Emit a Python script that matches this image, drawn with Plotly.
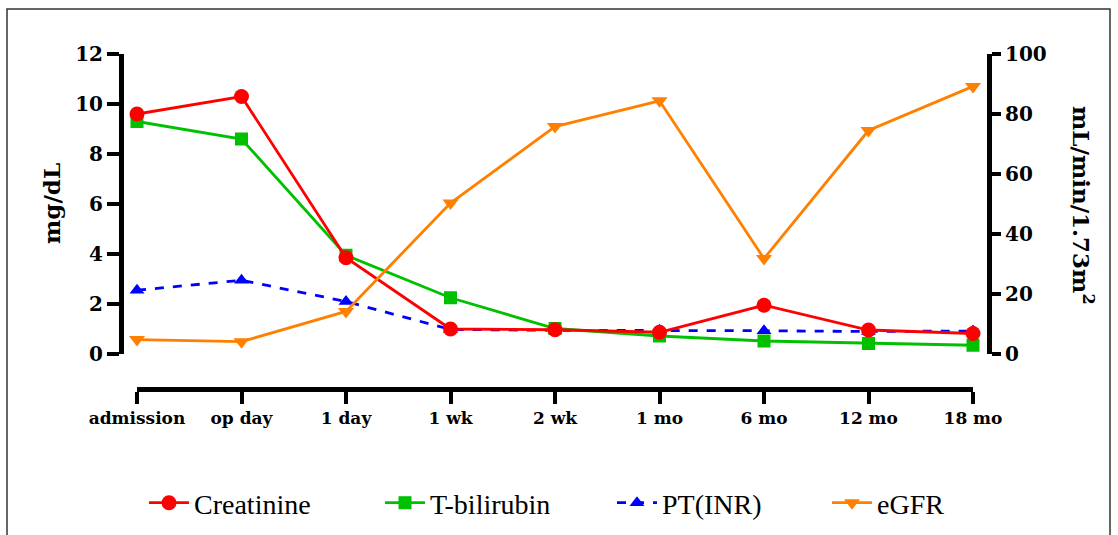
import plotly.graph_objects as go

categories = ["admission", "op day", "1 day", "1 wk", "2 wk", "1 mo", "6 mo", "12 mo", "18 mo"]
creatinine = [9.6, 10.3, 3.85, 1.0, 0.97, 0.87, 1.95, 0.96, 0.82]
t_bilirubin = [9.3, 8.6, 3.95, 2.25, 1.02, 0.72, 0.52, 0.42, 0.35]
pt_inr = [2.55, 2.95, 2.1, 0.98, 0.95, 0.95, 0.93, 0.9, 0.92]
egfr = [4.8, 4.1, 14.2, 50.3, 75.8, 84.4, 31.8, 74.5, 89.2]

SERIF = "DejaVu Serif"
LEG_FONT = "Liberation Serif"
W, H = 1118, 535
L, R, T, B = 121, 129, 54, 146
PW = W - L - R
PH = H - T - B

def px_x(px):
    return (px - L) / PW

def px_y(py):
    return (H - B - py) / PH

fig = go.Figure()

fig.add_trace(go.Scatter(
    x=categories, y=pt_inr, name="PT(INR)", mode="lines+markers", legend="legend3",
    line=dict(color="#0000FF", width=2.8, dash="dash"),
    marker=dict(symbol="triangle-up", size=13, color="#0000FF"),
    cliponaxis=False))
fig.add_trace(go.Scatter(
    x=categories, y=t_bilirubin, name="T-bilirubin", mode="lines+markers", legend="legend2",
    line=dict(color="#00C000", width=2.8),
    marker=dict(symbol="square", size=13, color="#00C000"),
    cliponaxis=False))
fig.add_trace(go.Scatter(
    x=categories, y=creatinine, name="Creatinine", mode="lines+markers", legend="legend",
    line=dict(color="#FF0000", width=2.8),
    marker=dict(symbol="circle", size=15, color="#FF0000"),
    cliponaxis=False))
fig.add_trace(go.Scatter(
    x=categories, y=egfr, name="eGFR", mode="lines+markers", yaxis="y2", legend="legend4",
    line=dict(color="#FF8000", width=2.8),
    marker=dict(symbol="triangle-down", size=14, color="#FF8000"),
    cliponaxis=False))

axis_common = dict(showgrid=False, zeroline=False, showline=True, linecolor="black",
                   linewidth=5, ticks="outside", tickwidth=4, tickcolor="black")

def legend_at(px_left):
    return dict(orientation="h", x=px_x(px_left), y=px_y(503), xanchor="left", yanchor="middle",
                itemwidth=40, bgcolor="rgba(0,0,0,0)",
                font=dict(family=LEG_FONT, size=28, color="black"))

fig.update_layout(
    width=W, height=H,
    margin=dict(l=L, r=R, t=T, b=B, autoexpand=False),
    paper_bgcolor="white", plot_bgcolor="white",
    xaxis=dict(**axis_common, ticklen=12, type="category", range=[0, 8],
               domain=[px_x(137), px_x(973)], anchor="free", position=0,
               tickfont=dict(family=SERIF, size=17, color="black", weight="bold")),
    yaxis=dict(**axis_common, ticklen=12, range=[0, 12], dtick=2, domain=[px_y(354), 1],
               anchor="free", position=0,
               tickfont=dict(family=SERIF, size=20, color="black", weight="bold")),
    yaxis2=dict(**axis_common, ticklen=9, range=[0, 100], dtick=20, overlaying="y", side="right",
                anchor="free", position=1,
                tickfont=dict(family=SERIF, size=20, color="black", weight="bold")),
    legend=legend_at(144),
    legend2=legend_at(380),
    legend3=legend_at(612),
    legend4=legend_at(827),
    showlegend=True,
    annotations=[
        dict(text="mg/dL", xref="paper", yref="paper", x=px_x(51), y=px_y(204),
             showarrow=False, textangle=-90, xanchor="center", yanchor="middle",
             font=dict(family=SERIF, size=23, color="black", weight="bold")),
        dict(text="mL/min/1.73m<sup>2</sup>", xref="paper", yref="paper", x=px_x(1083), y=px_y(205),
             showarrow=False, textangle=90, xanchor="center", yanchor="middle",
             font=dict(family=SERIF, size=23, color="black", weight="bold")),
    ],
    shapes=[
        dict(type="rect", xref="paper", yref="paper", x0=px_x(7), x1=px_x(1110),
             y0=px_y(560), y1=px_y(9), line=dict(color="#333333", width=1.5)),
    ],
)

fig.write_html("out.html", config={"displayModeBar": False},
               post_script="document.body.style.margin='0px';document.body.style.padding='0px';")
